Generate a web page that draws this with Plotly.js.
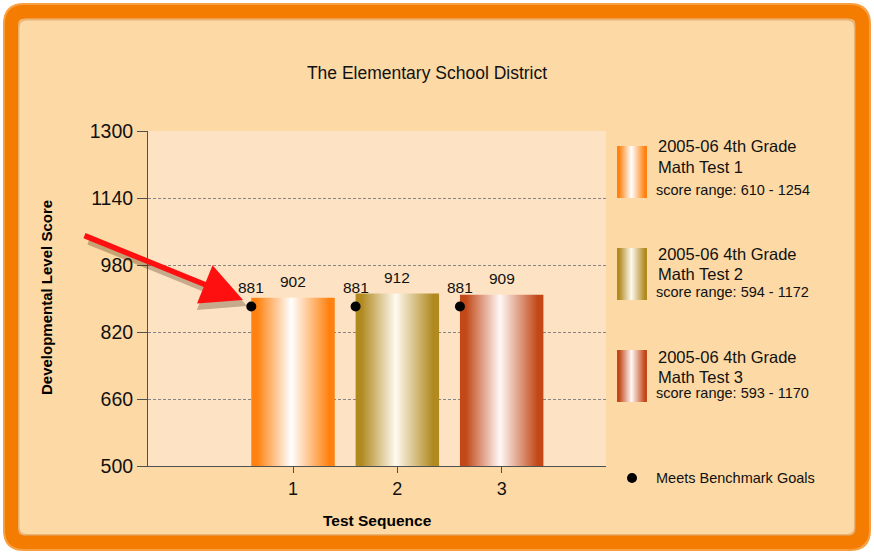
<!DOCTYPE html>
<html><head><meta charset="utf-8">
<script src="https://cdn.plot.ly/plotly-3.0.1.min.js"></script>
<style>html,body{margin:0;padding:0;background:#fff;} #chart{width:874px;height:553px;}</style>
</head><body><div id="chart"></div>
<script>
// ---- data ----
const categories = [1, 2, 3];
const tickLabels = ['1', '2', '3'];
const seriesNames = ['2005-06 4th Grade', '2005-06 4th Grade', '2005-06 4th Grade'];
const testNames = ['Math Test 1', 'Math Test 2', 'Math Test 3'];
const scores = [902, 912, 909];
const benchmark = [881, 881, 881];
const scoreRanges = ['610 - 1254', '594 - 1172', '593 - 1170'];
const yTicks = [500, 660, 820, 980, 1140, 1300];
const benchmarkLabel = 'Meets Benchmark Goals';
const chartTitle = 'The Elementary School District';
const xTitle = 'Test Sequence';
const yTitle = 'Developmental Level Score';

// ---- styles ----
const barColors = ['#ff8210', '#b0891f', '#c24818'];
const midColors = ['#ffffff', '#fffaf0', '#fff8f6'];
const W = 874, H = 553;
const FONT = 'Liberation Sans, Arial, sans-serif';
const plotL = 148, plotR = 606, plotT = 131, plotB = 466;
const yMin = yTicks[0], yMax = yTicks[yTicks.length - 1];
const halfW = 0.4;

function grad(c, m) {
  return {type: 'horizontal', colorscale: [[0, c], [0.07, c], [0.48, m], [0.93, c], [1, c]]};
}

const traces = [];
categories.forEach((c, i) => {
  traces.push({
    type: 'scatter', mode: 'none', xaxis: 'x', yaxis: 'y',
    x: [c - halfW, c - halfW, c + halfW, c + halfW, c - halfW],
    y: [yMin, scores[i], scores[i], yMin, yMin],
    fill: 'toself', fillcolor: barColors[i], fillgradient: grad(barColors[i], midColors[i]),
    hoverinfo: 'skip', showlegend: false
  });
});
// benchmark dots
traces.push({
  type: 'scatter', mode: 'markers', x: categories.map(c => c - halfW), y: benchmark,
  marker: {color: '#000', size: 10}, cliponaxis: false,
  hoverinfo: 'skip', showlegend: false
});

// legend swatches (pixel coordinate overlay axes)
const swTop = [146, 248, 350];
const swH = 52;
categories.forEach((c, i) => {
  traces.push({
    type: 'scatter', mode: 'none', xaxis: 'x2', yaxis: 'y2',
    x: [617, 617, 647, 647, 617],
    y: [swTop[i], swTop[i] + swH, swTop[i] + swH, swTop[i], swTop[i]],
    fill: 'toself', fillcolor: barColors[i], fillgradient: grad(barColors[i], midColors[i]),
    hoverinfo: 'skip', showlegend: false
  });
});
traces.push({
  type: 'scatter', mode: 'markers', xaxis: 'x2', yaxis: 'y2',
  x: [632], y: [478], marker: {color: '#000', size: 10},
  hoverinfo: 'skip', showlegend: false
});

function P(px, py) { return (px / W).toFixed(5) + ',' + (1 - py / H).toFixed(5); }
function roundRect(x0, y0, x1, y1, r) {
  return 'M' + P(x0 + r, y0) + ' L' + P(x1 - r, y0) + ' Q' + P(x1, y0) + ' ' + P(x1, y0 + r) +
    ' L' + P(x1, y1 - r) + ' Q' + P(x1, y1) + ' ' + P(x1 - r, y1) +
    ' L' + P(x0 + r, y1) + ' Q' + P(x0, y1) + ' ' + P(x0, y1 - r) +
    ' L' + P(x0, y0 + r) + ' Q' + P(x0, y0) + ' ' + P(x0 + r, y0) + ' Z';
}

const shapes = [
  {type: 'path', xref: 'paper', yref: 'paper', layer: 'below',
   path: roundRect(10.5, 11, 863, 543, 16), fillcolor: '#fdd9a5',
   line: {color: '#f47c00', width: 15}},
  {type: 'path', xref: 'paper', yref: 'paper', layer: 'below',
   path: roundRect(4, 4, 870, 550, 20), fillcolor: 'rgba(0,0,0,0)',
   line: {color: '#f8a040', width: 2}},
  {type: 'path', xref: 'paper', yref: 'paper', layer: 'below',
   path: roundRect(18.5, 19.5, 855, 535, 8), fillcolor: 'rgba(0,0,0,0)',
   line: {color: 'rgba(200,110,20,0.35)', width: 2}},
  {type: 'rect', xref: 'paper', yref: 'paper', layer: 'below',
   x0: plotL / W, x1: plotR / W, y0: 1 - plotB / H, y1: 1 - plotT / H,
   fillcolor: '#fde3c4', line: {width: 0}}
];

const annotations = [];
// value labels and benchmark labels (data coordinates)
categories.forEach((c, i) => {
  annotations.push({xref: 'x', yref: 'y', x: c, y: scores[i], yanchor: 'middle', yshift: 16,
    text: String(scores[i]), showarrow: false, font: {family: FONT, size: 15.5, color: '#111'}});
  annotations.push({xref: 'x', yref: 'y', x: c - halfW, y: benchmark[i], yanchor: 'middle', yshift: 19,
    text: String(benchmark[i]), showarrow: false, font: {family: FONT, size: 15.5, color: '#111'}});
});
// legend text
const l1y = [146, 254, 357], l2y = [167, 274, 377], l3y = [190, 292, 393];
categories.forEach((c, i) => {
  annotations.push({xref: 'x2', yref: 'y2', x: 656, y: l1y[i], xanchor: 'left', yanchor: 'middle',
    text: seriesNames[i], showarrow: false, font: {family: FONT, size: 16.5, color: '#111'}});
  annotations.push({xref: 'x2', yref: 'y2', x: 656, y: l2y[i], xanchor: 'left', yanchor: 'middle',
    text: testNames[i], showarrow: false, font: {family: FONT, size: 16.5, color: '#111'}});
  annotations.push({xref: 'x2', yref: 'y2', x: 654, y: l3y[i], xanchor: 'left', yanchor: 'middle',
    text: 'score range: ' + scoreRanges[i], showarrow: false, font: {family: FONT, size: 14.5, color: '#111'}});
});
annotations.push({xref: 'x2', yref: 'y2', x: 654, y: 478, xanchor: 'left', yanchor: 'middle',
  text: benchmarkLabel, showarrow: false, font: {family: FONT, size: 14.5, color: '#111'}});
// axis titles
annotations.push({xref: 'x2', yref: 'y2', x: 377, y: 520, xanchor: 'center', yanchor: 'middle',
  text: '<b>' + xTitle + '</b>', showarrow: false, font: {family: FONT, size: 15.5, color: '#000'}});
annotations.push({xref: 'x2', yref: 'y2', x: 46, y: 298, xanchor: 'center', yanchor: 'middle', textangle: -90,
  text: '<b>' + yTitle + '</b>', showarrow: false, font: {family: FONT, size: 15, color: '#000'}});
// arrow shadow + arrow
annotations.push({xref: 'x2', yref: 'y2', axref: 'x2', ayref: 'y2', x: 247, y: 306, ax: 87, ay: 241,
  text: '', showarrow: true, arrowhead: 2, arrowsize: 1.5, arrowwidth: 6, arrowcolor: 'rgba(70,40,10,0.3)'});
annotations.push({xref: 'x2', yref: 'y2', axref: 'x2', ayref: 'y2', x: 243, y: 300, ax: 83, ay: 235,
  text: '', showarrow: true, arrowhead: 2, arrowsize: 1.5, arrowwidth: 5.5, arrowcolor: '#ff1010'});

const layout = {
  width: W, height: H, margin: {l: 0, r: 0, t: 0, b: 0},
  paper_bgcolor: '#ffffff', plot_bgcolor: 'rgba(0,0,0,0)',
  showlegend: false, hovermode: false,
  title: {text: chartTitle, x: 427 / W, xanchor: 'center', y: 1 - 73 / H, yanchor: 'middle',
          font: {family: FONT, size: 17.5, color: '#111'}},
  xaxis: {domain: [plotL / W, plotR / W], anchor: 'y', range: [-0.39, 4.0],
    tickvals: categories, ticktext: tickLabels, ticks: 'outside', ticklen: 6, tickcolor: '#505050',
    showline: true, linecolor: '#505050', linewidth: 1, showgrid: false, zeroline: false,
    tickfont: {family: FONT, size: 18, color: '#111'}, automargin: false, fixedrange: true},
  yaxis: {domain: [1 - plotB / H, 1 - plotT / H], anchor: 'x', range: [yMin, yMax],
    tickvals: yTicks, ticktext: yTicks.map(String), ticks: 'outside', ticklen: 10, tickcolor: '#505050',
    showline: true, linecolor: '#505050', linewidth: 1, showgrid: true, gridcolor: '#858585',
    griddash: '3px,2px', gridwidth: 1, zeroline: false,
    tickfont: {family: FONT, size: 19.5, color: '#111'}, automargin: false, fixedrange: true},
  xaxis2: {domain: [0, 1], anchor: 'y2', range: [0, W], visible: false, fixedrange: true},
  yaxis2: {domain: [0, 1], anchor: 'x2', range: [H, 0], visible: false, fixedrange: true},
  shapes: shapes, annotations: annotations
};

Plotly.newPlot('chart', traces, layout, {displayModeBar: false, staticPlot: true});
</script>
</body></html>
